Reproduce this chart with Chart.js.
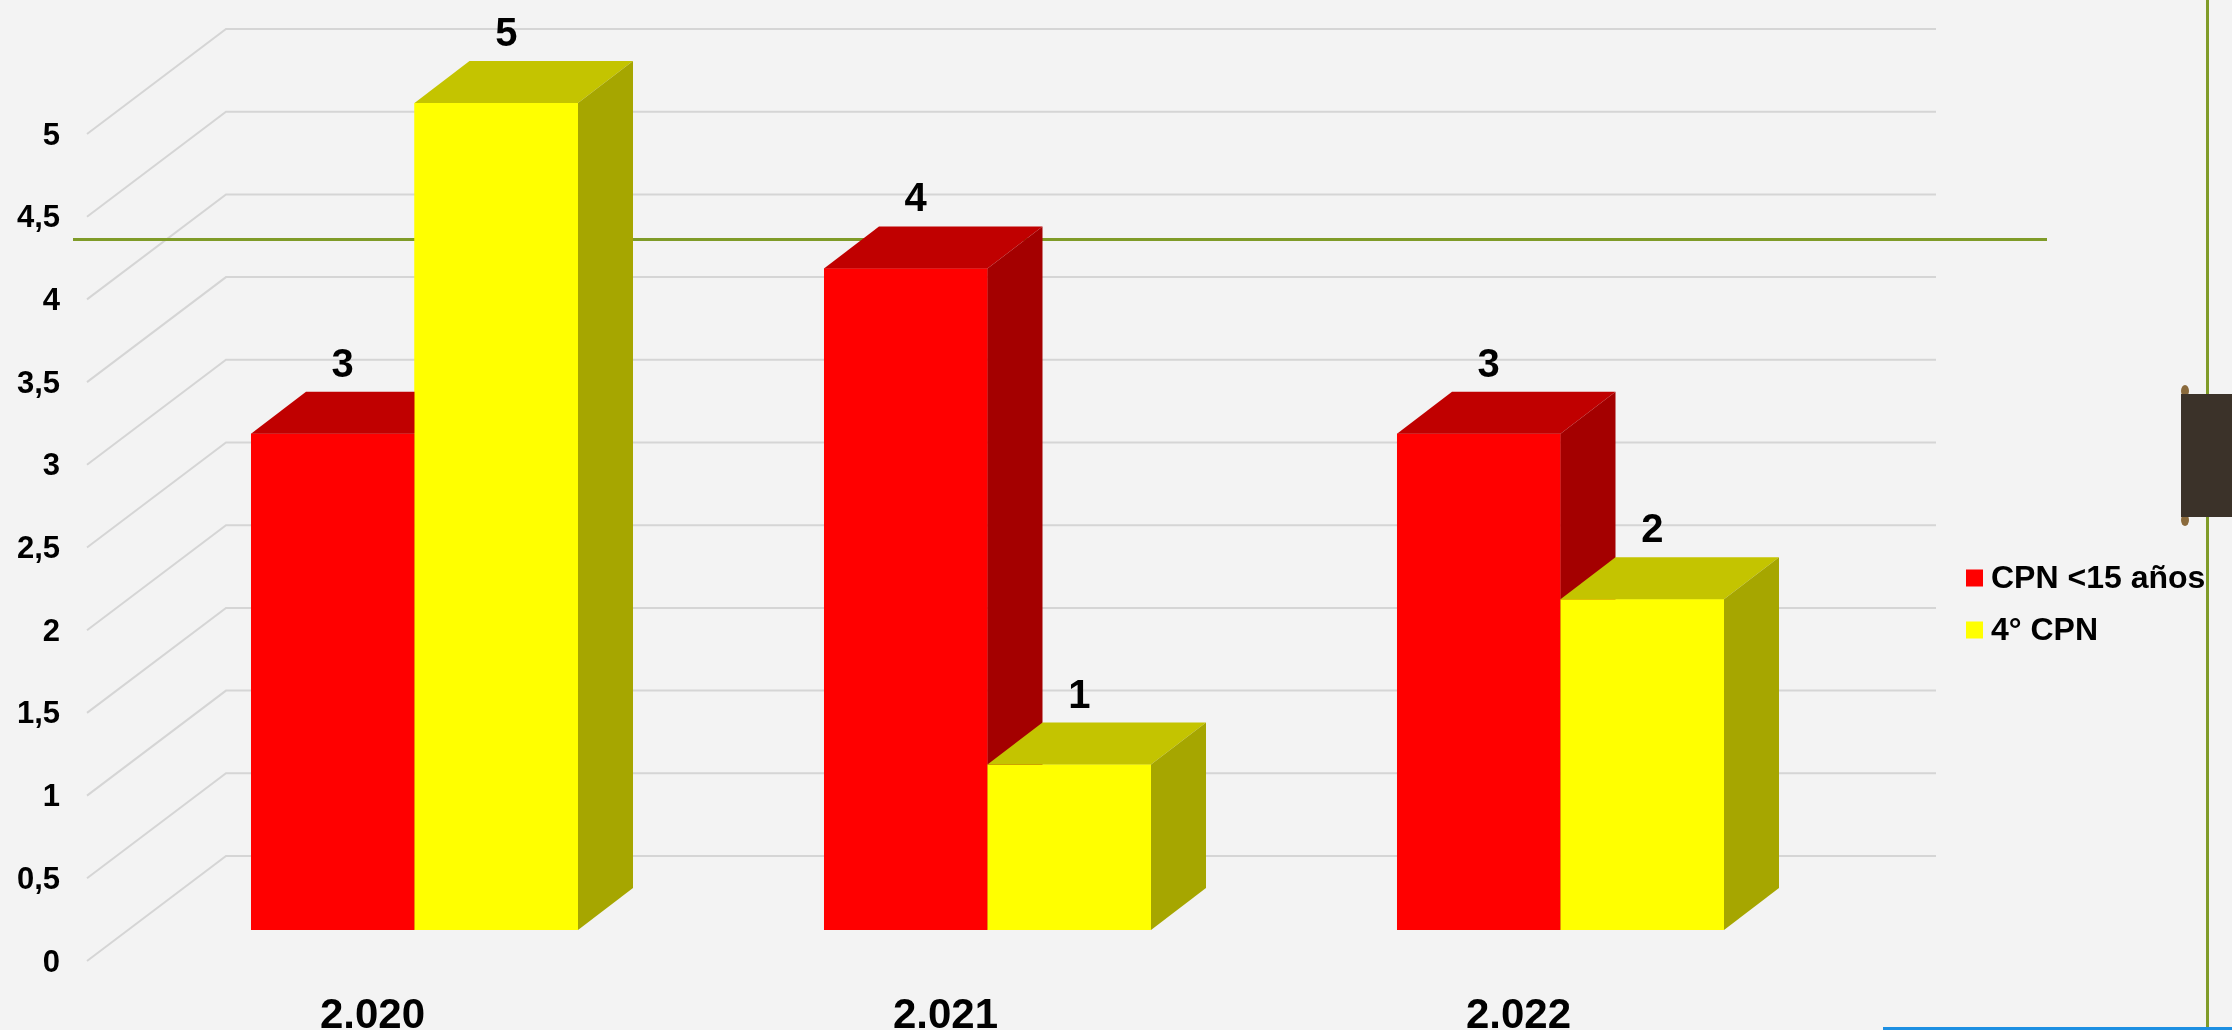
<!DOCTYPE html>
<html>
<head>
<meta charset="utf-8">
<script src="https://cdn.jsdelivr.net/npm/chart.js@4.4.1/dist/chart.umd.min.js"></script>
<style>
html,body{margin:0;padding:0;background:#f3f3f3;overflow:hidden}
canvas{display:block}
</style>
</head>
<body>
<canvas id="c" width="2232" height="1030"></canvas>
<script>
// ---- data ----
const categories = ['2.020', '2.021', '2.022'];
const seriesNames = ['CPN <15 años', '4° CPN'];
const cpnMenores15 = [3, 4, 3];
const cuartoCpn = [5, 1, 2];
const yTickValues = [0, 0.5, 1, 1.5, 2, 2.5, 3, 3.5, 4, 4.5, 5];
const yTickLabels = ['0', '0,5', '1', '1,5', '2', '2,5', '3', '3,5', '4', '4,5', '5'];

// ---- styles ----
const FONT = "'Liberation Sans', Arial, sans-serif";
const faceStyles = [
  { front: '#ff0000', top: '#c00000', side: '#a40000' },
  { front: '#ffff00', top: '#c4c400', side: '#a6a600' }
];
const BAR_DX = 55, BAR_DY = 42;      // bar depth (oblique)
const WALL_DX = 99, WALL_DY = 74;    // back wall offset from bar front plane
const FRONT_DX = -41, FRONT_DY = 31; // front edge of side wall

const threeD = {
  id: 'threeD',
  beforeDatasetsDraw(chart) {
    const ctx = chart.ctx, y = chart.scales.y, a = chart.chartArea;
    ctx.save();
    ctx.strokeStyle = '#d5d5d5';
    ctx.lineWidth = 2;
    y.ticks.forEach(t => {
      const py = y.getPixelForValue(t.value);
      ctx.beginPath();
      ctx.moveTo(a.left + FRONT_DX, py + FRONT_DY);
      ctx.lineTo(a.left + WALL_DX - 1, py - WALL_DY);
      ctx.lineTo(a.right + 89, py - WALL_DY);
      ctx.stroke();
    });
    // green decorative line (behind bars)
    ctx.strokeStyle = '#7f9b28';
    ctx.lineWidth = 3;
    ctx.beginPath();
    ctx.moveTo(73, 239.5);
    ctx.lineTo(2047, 239.5);
    ctx.stroke();
    ctx.restore();
  },
  afterDatasetsDraw(chart) {
    const ctx = chart.ctx;
    ctx.save();
    chart.data.datasets.forEach((ds, di) => {
      const meta = chart.getDatasetMeta(di);
      const st = faceStyles[di];
      meta.data.forEach(bar => {
        bar.draw(ctx);
        const p = bar.getProps(['x', 'y', 'base', 'width'], true);
        const l = p.x - p.width / 2, r = p.x + p.width / 2;
        ctx.fillStyle = st.top;
        ctx.beginPath();
        ctx.moveTo(l, p.y);
        ctx.lineTo(l + BAR_DX, p.y - BAR_DY);
        ctx.lineTo(r + BAR_DX, p.y - BAR_DY);
        ctx.lineTo(r, p.y);
        ctx.closePath();
        ctx.fill();
        ctx.fillStyle = st.side;
        ctx.beginPath();
        ctx.moveTo(r, p.y);
        ctx.lineTo(r + BAR_DX, p.y - BAR_DY);
        ctx.lineTo(r + BAR_DX, p.base - BAR_DY);
        ctx.lineTo(r, p.base);
        ctx.closePath();
        ctx.fill();
      });
    });
    // value labels
    ctx.fillStyle = '#000';
    ctx.font = 'bold 40px ' + FONT;
    ctx.textAlign = 'center';
    ctx.textBaseline = 'alphabetic';
    chart.data.datasets.forEach((ds, di) => {
      chart.getDatasetMeta(di).data.forEach((bar, i) => {
        const p = bar.getProps(['x', 'y'], true);
        ctx.fillText(String(ds.data[i]), p.x + 10, p.y - 57);
      });
    });
    ctx.restore();
  },
  afterDraw(chart) {
    const ctx = chart.ctx;
    ctx.save();
    // legend
    ctx.font = 'bold 32px ' + FONT;
    ctx.textAlign = 'left';
    ctx.textBaseline = 'middle';
    chart.data.datasets.forEach((ds, di) => {
      const cy = 578 + di * 52;
      ctx.fillStyle = ds.backgroundColor;
      ctx.fillRect(1966, cy - 8.5, 17, 17);
      ctx.fillStyle = '#000';
      ctx.fillText(ds.label, 1991, cy + 1);
    });
    // right side decorations
    ctx.fillStyle = '#7f9b28';
    ctx.fillRect(2206, 0, 3, 1030);
    ctx.fillStyle = '#8a6a3c';
    ctx.beginPath(); ctx.ellipse(2185, 391, 4, 6, 0, 0, Math.PI * 2); ctx.fill();
    ctx.beginPath(); ctx.ellipse(2185, 520, 4, 6, 0, 0, Math.PI * 2); ctx.fill();
    ctx.fillStyle = '#3b3229';
    ctx.fillRect(2181, 394, 51, 123);
    ctx.fillStyle = '#1c8fe2';
    ctx.fillRect(1883, 1027, 349, 3);
    ctx.restore();
  }
};

new Chart(document.getElementById('c'), {
  type: 'bar',
  data: {
    labels: categories,
    datasets: [
      { label: seriesNames[0], data: cpnMenores15, backgroundColor: faceStyles[0].front, borderWidth: 0 },
      { label: seriesNames[1], data: cuartoCpn, backgroundColor: faceStyles[1].front, borderWidth: 0 }
    ]
  },
  options: {
    responsive: false,
    devicePixelRatio: 1,
    animation: false,
    events: [],
    layout: { padding: { top: 103, right: 385, bottom: 0, left: 0 } },
    datasets: { bar: { categoryPercentage: 0.5707, barPercentage: 1 } },
    plugins: { legend: { display: false }, tooltip: { enabled: false } },
    scales: {
      x: {
        grid: { display: false, drawTicks: false },
        border: { display: false },
        ticks: { color: '#000', font: { family: FONT, size: 42, weight: 'bold' }, labelOffset: -42, padding: 61, maxRotation: 0 },
        afterFit(s) { s.height = 100; }
      },
      y: {
        min: 0, max: 5,
        grid: { display: false, drawTicks: false },
        border: { display: false },
        afterBuildTicks(s) { s.ticks = yTickValues.map(v => ({ value: v })); },
        ticks: {
          color: '#000',
          font: { family: FONT, size: 31, weight: 'bold' },
          labelOffset: 33,
          padding: 68,
          callback: (v, i) => yTickLabels[i]
        },
        afterFit(s) { s.width = 128; }
      }
    }
  },
  plugins: [threeD]
});
</script>
</body>
</html>
